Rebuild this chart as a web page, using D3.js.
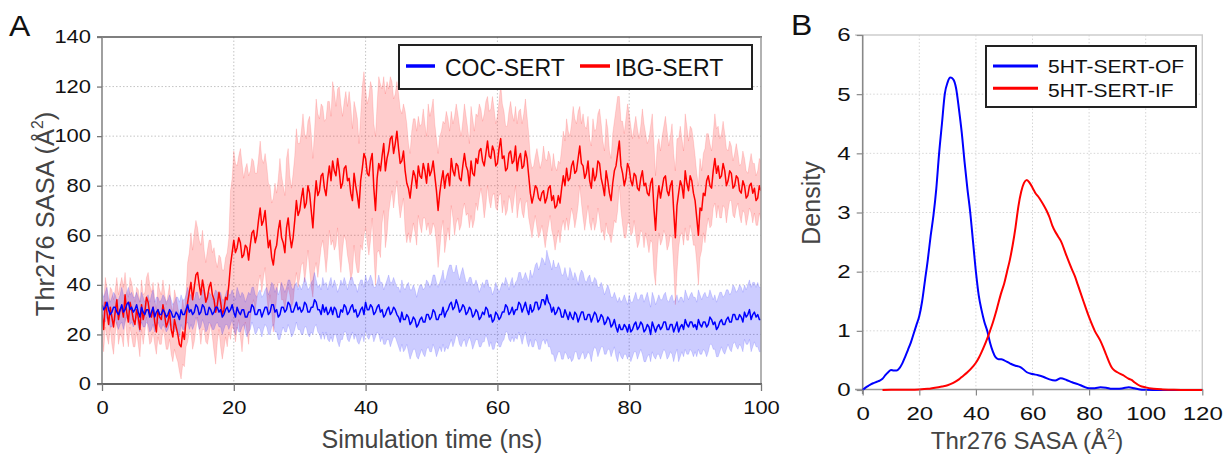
<!DOCTYPE html>
<html>
<head>
<meta charset="utf-8">
<script src="https://cdn.jsdelivr.net/npm/d3@7"></script>
<style>
  body { margin: 0; background: #fff; }
  svg { display: block; font-family: "Liberation Sans", Arial, sans-serif; }
</style>
</head>
<body>
<svg id="fig" width="1225" height="454"></svg>
<script>
// ---- panel A data: SASA means every 0.25 ns, spread (sd) every 0.5 ns ----
const meanStep = 0.25;

const cocMean = [
  32,30, 31,33, 30,28, 29,31, 31,29, 28,30, 32,29, 30,32, 33,30, 31,29,
  30,32, 29,27, 31,29, 28,30, 30,27, 29,31, 27,29, 30,28, 28,30, 29,27,
  28,30, 29,27, 27,29, 28,26, 30,28, 28,30, 32,29, 30,28, 29,32, 31,28,
  29,32, 31,28, 28,31, 30,28, 29,31, 31,29, 30,27, 28,30, 31,29, 30,32,
  29,27, 31,29, 28,30, 30,27, 27,29, 29,32, 31,28, 28,30, 30,27, 29,31,
  31,28, 29,32, 32,29, 30,27, 28,31, 31,29, 30,33, 32,29, 29,31, 33,30,
  31,29, 30,33, 32,29, 29,31, 31,34, 33,30, 30,28, 32,29, 31,28, 29,31,
  28,31, 30,27, 27,30, 29,32, 31,28, 29,31, 32,29, 30,27, 28,30, 31,28,
  33,30, 30,32, 31,28, 29,31, 32,29, 30,27, 28,30, 31,28, 29,31, 30,28,
  27,25, 29,26, 26,28, 27,24, 25,27, 26,23, 24,26, 27,25, 25,28, 28,26,
  27,30, 29,26, 26,28, 28,31, 27,29, 30,32, 33,30, 31,34, 32,29, 30,32,
  31,28, 29,31, 30,27, 28,30, 29,26, 27,29, 28,31, 30,27, 28,25, 26,29,
  28,26, 27,29, 29,32, 31,28, 29,31, 28,30, 30,33, 32,29, 31,33, 30,28,
  32,29, 30,33, 33,30, 31,34, 34,32, 36,33, 32,29, 31,28, 29,31, 30,27,
  27,30, 28,26, 29,27, 26,29, 28,25, 27,29, 29,26, 26,28, 28,25, 27,29,
  28,25, 26,28, 27,24, 25,27, 26,23, 24,26, 23,21, 24,22, 22,24, 23,21,
  24,21, 22,24, 25,22, 23,25, 24,21, 22,24, 23,20, 25,23, 21,23, 24,22,
  23,25, 25,22, 22,24, 24,21, 23,25, 21,23, 24,22, 26,24, 23,25, 25,23,
  24,22, 26,24, 23,25, 25,23, 24,27, 26,24, 25,22, 23,25, 26,24, 24,26,
  27,25, 25,28, 28,26, 26,28, 27,25, 29,27, 28,30, 26,28, 29,27, 28,26,
  26
];
const cocSd = [
  5, 6, 5, 6, 5, 6, 7, 5, 6, 6,
  5, 6, 6, 5, 6, 7, 6, 5, 6, 6,
  6, 5, 6, 7, 6, 6, 7, 6, 5, 6,
  6, 7, 6, 6, 7, 6, 7, 6, 7, 6,
  7, 8, 7, 6, 8, 7, 8, 7, 8, 7,
  8, 9, 8, 9, 10, 8, 9, 10, 9, 8,
  9, 10, 9, 10, 11, 9, 10, 11, 10, 12,
  11, 10, 12, 11, 10, 12, 11, 10, 12, 11,
  11, 12, 11, 10, 12, 11, 12, 13, 12, 11,
  12, 13, 12, 14, 13, 12, 14, 13, 14, 13,
  14, 15, 13, 15, 14, 16, 15, 14, 13, 15,
  13, 12, 13, 12, 11, 12, 11, 12, 11, 12,
  11, 12, 11, 10, 12, 11, 12, 13, 12, 13,
  14, 15, 16, 17, 16, 18, 17, 19, 18, 17,
  17, 16, 18, 16, 15, 17, 16, 15, 16, 14,
  14, 13, 12, 13, 12, 11, 12, 11, 12, 11,
  12, 11, 12, 11, 12, 13, 11, 12, 11, 12,
  11, 12, 11, 12, 11, 12, 11, 12, 11, 12,
  11, 12, 11, 12, 11, 10, 11, 12, 11, 12,
  11, 12, 11, 12, 12, 11, 12, 13, 12, 13,
  13
];
const ibgMean = [
  28,22, 33,29, 24,31, 27,23, 29,34, 26,30, 31,27, 36,29, 25,33, 30,26,
  24,30, 27,22, 32,26, 29,35, 33,28, 27,31, 25,21, 30,27, 26,32, 28,23,
  25,29, 22,19, 26,23, 20,16, 15,21, 18,26, 33,37, 41,34, 39,44, 45,40,
  36,42, 38,33, 35,39, 41,36, 34,29, 32,37, 33,28, 30,35, 34,40, 48,53,
  58,53, 55,59, 57,51, 52,56, 55,50, 56,61, 62,57, 60,66, 71,64, 66,70,
  62,55, 58,51, 48,54, 56,62, 66,59, 57,53, 63,67, 60,55, 59,66, 74,68,
  70,75, 79,71, 73,80, 77,70, 63,74, 82,76, 78,84, 85,79, 76,83, 88,82,
  90,86, 84,91, 86,79, 81,87, 88,82, 83,77, 74,85, 80,76, 71,82, 87,93,
  91,85, 84,90, 93,79, 70,83, 89,86, 92,97, 86,91, 94,99, 100,93, 97,102,
  95,89, 90,94, 86,81, 79,75, 81,86, 84,79, 88,84, 83,89, 86,81, 89,84,
  86,90, 84,78, 70,77, 82,86, 79,84, 85,80, 91,86, 84,89, 88,83, 82,88,
  93,88, 86,80, 90,85, 84,91, 89,94, 95,90, 88,93, 98,92, 91,96, 94,88,
  89,95, 99,91, 92,86, 87,93, 94,89, 90,96, 86,91, 93,87, 88,94, 91,84,
  77,73, 76,80, 79,75, 74,77, 78,73, 75,79, 80,74, 76,71, 72,76, 73,79,
  84,80, 87,82, 83,88, 90,85, 86,91, 96,89, 88,83, 85,90, 82,79, 87,82,
  84,90, 89,83, 80,76, 86,82, 77,74, 81,86, 88,93, 98,88, 85,80, 83,89,
  87,82, 80,85, 84,79, 78,83, 86,80, 81,77, 76,81, 83,71, 62,74, 80,75,
  79,83, 84,78, 76,80, 82,70, 59,72, 77,82, 80,75, 86,81, 78,84, 82,77,
  74,67, 60,71, 70,77, 76,82, 84,80, 79,86, 91,85, 88,83, 84,89, 86,80,
  82,86, 85,79, 80,84, 83,78, 77,82, 80,75, 76,80, 81,77, 79,74, 75,80,
  78
];
const ibgSd = [
  9, 10, 8, 11, 9, 10, 12, 9, 10, 11,
  9, 11, 10, 8, 12, 10, 9, 11, 10, 9,
  11, 10, 12, 11, 13, 11, 16, 20, 22, 18,
  20, 16, 19, 17, 21, 15, 18, 16, 19, 30,
  36, 33, 38, 31, 34, 30, 28, 25, 27, 23,
  26, 22, 27, 21, 25, 23, 28, 24, 26, 29,
  27, 30, 26, 31, 28, 33, 29, 27, 31, 26,
  32, 28, 34, 27, 30, 35, 29, 31, 26, 33,
  28, 32, 26, 30, 35, 27, 31, 25, 22, 20,
  22, 19, 24, 18, 21, 23, 20, 22, 19, 24,
  25, 21, 23, 20, 26, 22, 19, 24, 21, 18,
  20, 17, 22, 18, 19, 16, 21, 18, 20, 17,
  19, 22, 18, 17, 20, 16, 19, 18, 21, 17,
  14, 12, 16, 13, 18, 15, 12, 17, 14, 16,
  18, 20, 17, 22, 19, 16, 21, 18, 17, 20,
  19, 22, 18, 21, 17, 20, 23, 18, 21, 24,
  22, 19, 24, 21, 25, 20, 23, 26, 22, 19,
  21, 24, 20, 23, 27, 22, 19, 23, 20, 21,
  18, 20, 16, 19, 17, 15, 18, 16, 17, 15,
  12, 11, 13, 10, 12, 11, 9, 12, 10, 11,
  12
];
const seriesA = ["COC-SERT", "IBG-SERT"];
const ticksAx = [0, 20, 40, 60, 80, 100];
const ticksAy = [0, 20, 40, 60, 80, 100, 120, 140];

// ---- panel B data: density of SASA ----
const ofX = [0, 1, 2, 3, 4, 5, 6, 7, 8, 9, 10, 11, 12, 13, 14, 15, 16, 17, 18, 19,
  20, 21, 22, 23, 24, 25, 26, 27, 28, 29, 30, 31, 32, 33, 34, 35, 36, 37, 38, 39,
  40, 41, 42, 43, 44, 45, 46, 47, 48, 49, 50, 52, 54, 55, 56, 58, 60, 62, 64, 66,
  68, 70, 72, 74, 76, 78, 80, 82, 84, 86, 88, 90, 92, 94, 96, 98, 100, 105, 110, 115, 120];
const ofY = [0, 0.04, 0.07, 0.1, 0.12, 0.14, 0.16, 0.19, 0.25, 0.3, 0.34, 0.33, 0.33, 0.37, 0.45, 0.56, 0.68, 0.8, 0.95, 1.1,
  1.25, 1.5, 1.85, 2.2, 2.6, 2.95, 3.4, 4.0, 4.5, 5.0, 5.2, 5.28, 5.25, 5.1, 4.75, 4.35, 3.85, 3.4, 3.0, 2.5,
  2.0, 1.6, 1.35, 1.15, 1.0, 0.8, 0.65, 0.55, 0.52, 0.52, 0.5, 0.45, 0.41, 0.4, 0.38, 0.3, 0.27, 0.25, 0.22, 0.18,
  0.16, 0.2, 0.17, 0.13, 0.1, 0.06, 0.03, 0.03, 0.045, 0.04, 0.02, 0.02, 0.03, 0.045, 0.03, 0.01, 0.005, 0, 0, 0, 0];
const ifX = [7, 10, 15, 20, 23, 25, 28, 30, 32, 34, 35, 37, 39, 40, 41, 42, 43, 44, 45, 46,
  47, 48, 49, 50, 51, 52, 53, 54, 55, 56, 57, 58, 59, 60, 61, 62, 63, 64, 65, 66,
  67, 68, 69, 70, 72, 74, 75, 76, 78, 80, 82, 84, 85, 86, 87, 88, 89, 90, 92, 94,
  95, 96, 98, 100, 102, 104, 106, 110, 115, 120];
const ifY = [0, 0.003, 0.005, 0.01, 0.02, 0.035, 0.06, 0.08, 0.12, 0.18, 0.22, 0.3, 0.4, 0.46, 0.54, 0.64, 0.75, 0.87, 1.0, 1.14,
  1.3, 1.48, 1.65, 1.8, 2.0, 2.2, 2.45, 2.75, 3.1, 3.35, 3.5, 3.55, 3.5, 3.42, 3.33, 3.27, 3.2, 3.12, 3.03, 2.92,
  2.78, 2.68, 2.6, 2.52, 2.27, 2.03, 1.92, 1.78, 1.5, 1.23, 1.0, 0.83, 0.72, 0.6, 0.48, 0.38, 0.33, 0.3, 0.25, 0.19,
  0.17, 0.13, 0.07, 0.045, 0.025, 0.015, 0.01, 0.003, 0, 0];
const seriesB = ["5HT-SERT-OF", "5HT-SERT-IF"];
const ticksBx = [0, 20, 40, 60, 80, 100, 120];
const ticksBy = [0, 1, 2, 3, 4, 5, 6];

const BLUE = "#0000ff", RED = "#ff0000";
const svg = d3.select("#fig");

// text that may be widened horizontally (the figure's fonts are a bit wide)
function addText(parent, x, y, str, size, opts = {}) {
  const rot = opts.rotate ? ` rotate(${opts.rotate})` : "";
  return parent.append("text")
    .attr("transform", `translate(${x},${y})${rot} scale(${opts.sx || 1},1)`)
    .attr("font-size", size)
    .attr("fill", opts.fill || "#111")
    .attr("text-anchor", opts.anchor || "start")
    .text(str);
}
function sasaTitle(parent, x, y, size, opts) {
  const t = addText(parent, x, y, "Thr276 SASA (Å", size, Object.assign({ anchor: "middle", fill: "#444" }, opts));
  t.append("tspan").attr("font-size", size * 0.62).attr("dy", -size * 0.42).text("2");
  t.append("tspan").attr("dy", size * 0.42).text(")");
  return t;
}

// ================= panel A =================
(function () {
  const x = d3.scaleLinear().domain([0, 100]).range([102, 761]);
  const y = d3.scaleLinear().domain([0, 140]).range([384, 37]);
  const g = svg.append("g");

  svg.append("clipPath").attr("id", "clipA")
    .append("rect").attr("x", 102).attr("y", 37).attr("width", 659).attr("height", 347);

  // grid
  g.selectAll(".gx").data(ticksAx.slice(1, -1)).enter().append("line")
    .attr("x1", d => x(d)).attr("x2", d => x(d)).attr("y1", 37).attr("y2", 384)
    .attr("stroke", "#c4c4c4").attr("stroke-dasharray", "1.5,2");
  g.selectAll(".gy").data(ticksAy.slice(1, -1)).enter().append("line")
    .attr("y1", d => y(d)).attr("y2", d => y(d)).attr("x1", 102).attr("x2", 761)
    .attr("stroke", "#c4c4c4").attr("stroke-dasharray", "1.5,2");

  const plot = g.append("g").attr("clip-path", "url(#clipA)");
  const tx = (d, i) => x(i * meanStep);
  const sdAt = (sd, i) => sd[Math.floor(i / 2)];

  function band(mean, sd, color) {
    const area = d3.area().x(tx)
      .y0((d, i) => y(d - sdAt(sd, i))).y1((d, i) => y(d + sdAt(sd, i)));
    plot.append("path").datum(mean).attr("d", area)
      .attr("fill", color).attr("fill-opacity", 0.2);
    const edge = k => d3.line().x(tx).y((d, i) => y(d + k * sdAt(sd, i)));
    [1, -1].forEach(k => plot.append("path").datum(mean).attr("d", edge(k))
      .attr("fill", "none").attr("stroke", color).attr("stroke-opacity", 0.16).attr("stroke-width", 0.8));
  }
  function meanLine(mean, color) {
    plot.append("path").datum(mean)
      .attr("d", d3.line().x(tx).y(d => y(d)))
      .attr("fill", "none").attr("stroke", color).attr("stroke-width", 1.5)
      .attr("stroke-linejoin", "round");
  }
  band(ibgMean, ibgSd, RED);
  band(cocMean, cocSd, BLUE);
  meanLine(ibgMean, RED);
  meanLine(cocMean, BLUE);

  // frame
  g.append("line").attr("x1", 97).attr("x2", 762).attr("y1", 37).attr("y2", 37).attr("stroke", "#555").attr("stroke-width", 1.6);
  g.append("line").attr("x1", 761).attr("x2", 761).attr("y1", 37).attr("y2", 384).attr("stroke", "#999").attr("stroke-width", 1.5);
  g.append("line").attr("x1", 102).attr("x2", 102).attr("y1", 37).attr("y2", 384).attr("stroke", "#888").attr("stroke-width", 1.6);
  g.append("line").attr("x1", 97).attr("x2", 762).attr("y1", 384).attr("y2", 384).attr("stroke", "#666").attr("stroke-width", 2);

  // axes
  const ax = g.append("g").attr("transform", "translate(0,384)")
    .call(d3.axisBottom(x).tickValues(ticksAx).tickSize(7).tickPadding(10));
  const ay = g.append("g").attr("transform", "translate(102,0)")
    .call(d3.axisLeft(y).tickValues(ticksAy).tickSize(5).tickPadding(6));
  [ax, ay].forEach(a => {
    a.select(".domain").remove();
    a.selectAll(".tick line").attr("stroke", "#777").attr("stroke-width", 1.3);
    a.selectAll("text").attr("font-size", 18).attr("font-family", null).attr("fill", "#111");
  });
  ax.selectAll("text").attr("transform", "scale(1.22,1)");
  ay.selectAll("text").attr("x", -11 / 1.22).attr("transform", "scale(1.22,1)");

  addText(g, 432, 448, "Simulation time (ns)", 25, { anchor: "middle", fill: "#444" });
  sasaTitle(g, 54, 214, 25.5, { rotate: -90 });
  addText(g, 9, 36, "A", 29, { sx: 1.1 });

  // legend
  const lg = g.append("g");
  lg.append("rect").attr("x", 399).attr("y", 45).attr("width", 353).attr("height", 44)
    .attr("fill", "#fff").attr("stroke", "#222").attr("stroke-width", 2);
  const legA = [{ name: seriesA[0], color: BLUE, x0: 406, x1: 435, tx: 445 },
                { name: seriesA[1], color: RED, x0: 580, x1: 610, tx: 615 }];
  legA.forEach(d => {
    lg.append("line").attr("x1", d.x0).attr("x2", d.x1).attr("y1", 66).attr("y2", 66)
      .attr("stroke", d.color).attr("stroke-width", 3.5);
    addText(lg, d.tx, 75.5, d.name, 23);
  });
})();

// ================= panel B =================
(function () {
  const x = d3.scaleLinear().domain([0, 120]).range([862.7, 1202.3]);
  const y = d3.scaleLinear().domain([0, 6]).range([390, 35]);
  const g = svg.append("g");

  g.selectAll(".gx").data(ticksBx.slice(1, -1)).enter().append("line")
    .attr("x1", d => x(d)).attr("x2", d => x(d)).attr("y1", 35).attr("y2", 390)
    .attr("stroke", "#d6d6d6").attr("stroke-dasharray", "1.5,2");
  g.selectAll(".gy").data(ticksBy.slice(1, -1)).enter().append("line")
    .attr("y1", d => y(d)).attr("y2", d => y(d)).attr("x1", 862.7).attr("x2", 1202.3)
    .attr("stroke", "#d6d6d6").attr("stroke-dasharray", "1.5,2");

  g.append("line").attr("x1", 855).attr("x2", 1203).attr("y1", 35).attr("y2", 35).attr("stroke", "#ccc").attr("stroke-width", 1.4);
  g.append("line").attr("x1", 1202.3).attr("x2", 1202.3).attr("y1", 35).attr("y2", 390).attr("stroke", "#ccc").attr("stroke-width", 1.4);
  g.append("line").attr("x1", 855).attr("x2", 1203).attr("y1", 389.5).attr("y2", 389.5).attr("stroke", "#999").attr("stroke-width", 1.6);
  g.append("line").attr("x1", 862.7).attr("x2", 862.7).attr("y1", 35).attr("y2", 394).attr("stroke", "#888").attr("stroke-width", 1.6);

  const curve = (xs, ys, color) => g.append("path").datum(xs)
    .attr("d", d3.line().curve(d3.curveMonotoneX).x(d => x(d)).y((d, i) => y(ys[i])))
    .attr("fill", "none").attr("stroke", color).attr("stroke-width", 2);
  curve(ofX, ofY, BLUE);
  curve(ifX, ifY, RED);

  const ax = g.append("g").attr("transform", "translate(0,389.5)")
    .call(d3.axisBottom(x).tickValues(ticksBx).tickSize(6).tickPadding(11).tickFormat(d3.format("d")));
  const ay = g.append("g").attr("transform", "translate(862.7,0)")
    .call(d3.axisLeft(y).tickValues(ticksBy).tickSize(6).tickPadding(6).tickFormat(d3.format("d")));
  [ax, ay].forEach(a => {
    a.select(".domain").remove();
    a.selectAll(".tick line").attr("stroke", "#888").attr("stroke-width", 1.2);
    a.selectAll("text").attr("font-size", 18.5).attr("font-family", null).attr("fill", "#111");
  });
  ax.selectAll("text").attr("transform", "scale(1.3,1)");
  ay.selectAll("text").attr("x", -12 / 1.3).attr("transform", "scale(1.3,1)");

  sasaTitle(g, 1027, 449, 24, {});
  addText(g, 820, 203, "Density", 25, { anchor: "middle", fill: "#444", rotate: -90 });
  addText(g, 791, 35, "B", 29, { sx: 1.1 });

  const lg = g.append("g");
  lg.append("rect").attr("x", 986).attr("y", 46).attr("width", 210).attr("height", 61)
    .attr("fill", "#fff").attr("stroke", "#222").attr("stroke-width", 2);
  [{ name: seriesB[0], color: BLUE, yy: 66, tb: 72.5 },
   { name: seriesB[1], color: RED, yy: 88.3, tb: 96.5 }].forEach(d => {
    lg.append("line").attr("x1", 993).attr("x2", 1038).attr("y1", d.yy).attr("y2", d.yy)
      .attr("stroke", d.color).attr("stroke-width", 3);
    addText(lg, 1048, d.tb, d.name, 18.6, { sx: 1.13 });
  });
})();
</script>
</body>
</html>
